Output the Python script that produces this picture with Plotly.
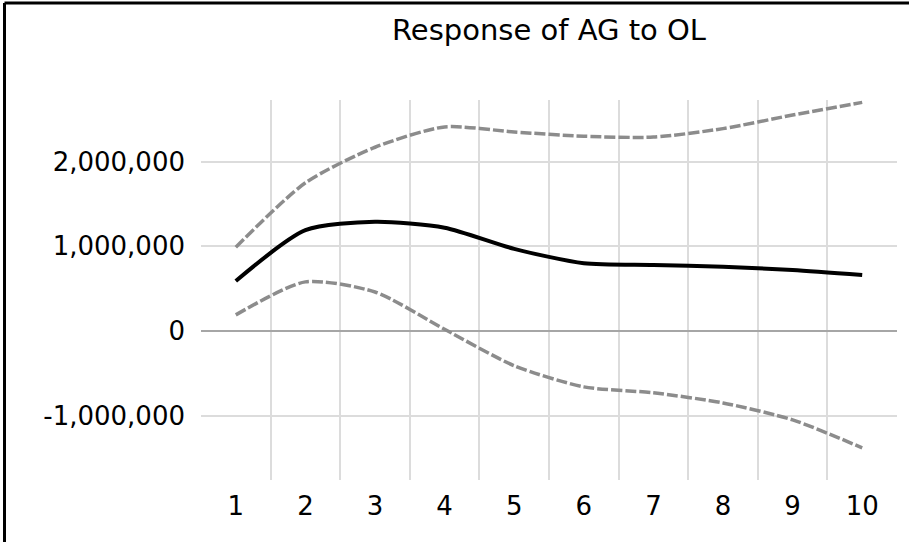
import plotly.graph_objects as go

# Impulse response horizon and values (response of AG to a shock in OL)
periods = [1, 2, 3, 4, 5, 6, 7, 8, 9, 10]
response = [590000, 1190000, 1290000, 1220000, 970000, 800000, 780000, 760000, 720000, 660000]
upper_band = [990000, 1750000, 2170000, 2410000, 2350000, 2300000, 2290000, 2390000, 2550000, 2700000]
lower_band = [190000, 580000, 460000, 20000, -410000, -660000, -730000, -850000, -1050000, -1380000]
y_ticks = [-1000000, 0, 1000000, 2000000]
y_tick_labels = [f"{v:,}" for v in y_ticks]
x_ticks = periods
title_text = "Response of AG to OL"

W, H = 909, 542
M_L, M_R, M_T, M_B = 201, 12, 100, 62
plot_w = W - M_L - M_R
plot_h = H - M_T - M_B

fig = go.Figure()

band_style = dict(color="#8c8c8c", width=3.5, dash="11px,3px", shape="spline", smoothing=0.7)
fig.add_trace(go.Scatter(x=periods, y=upper_band, mode="lines", line=band_style, hoverinfo="skip"))
fig.add_trace(go.Scatter(x=periods, y=lower_band, mode="lines", line=band_style, hoverinfo="skip"))
fig.add_trace(go.Scatter(x=periods, y=response, mode="lines",
                         line=dict(color="#000000", width=4, shape="spline", smoothing=0.7)))

font_family = "DejaVu Sans"

fig.update_layout(
    width=W, height=H,
    margin=dict(l=M_L, r=M_R, t=M_T, b=M_B, pad=0),
    paper_bgcolor="white", plot_bgcolor="white",
    showlegend=False,
    font=dict(family=font_family, color="black", size=26),
    title=dict(text=title_text, x=0.5, xref="paper", xanchor="center",
               y=1 - 29.5 / H, yref="container", yanchor="middle",
               font=dict(family=font_family, size=29, color="black")),
    xaxis=dict(
        range=[0.5, 10.5], tickmode="array", tickvals=x_ticks,
        ticktext=[str(v) for v in x_ticks],
        showgrid=False, zeroline=False, showline=False, ticks="",
        ticklabelstandoff=8, tickfont=dict(size=26),
        minor=dict(tickmode="array", tickvals=[p + 0.5 for p in periods[:-1]],
                   showgrid=True, gridcolor="#dcdcdc", gridwidth=2, ticks=""),
    ),
    yaxis=dict(
        range=[-1760000, 2728000], tickmode="array", tickvals=y_ticks,
        ticktext=y_tick_labels, showgrid=True, gridcolor="#dcdcdc", gridwidth=2,
        zeroline=True, zerolinecolor="#a6a6a6", zerolinewidth=2,
        showline=False, ticks="", ticklabelstandoff=15, tickfont=dict(size=26),
    ),
)

# Outer frame of the chart (left and top edges)
left_x = (4.5 - M_L) / plot_w
top_y = (M_T + plot_h - 3) / plot_h
bottom_y = (M_T + plot_h - H - 5) / plot_h
fig.add_shape(type="line", xref="paper", yref="paper", x0=left_x, x1=left_x,
              y0=bottom_y, y1=top_y, line=dict(color="black", width=3))
fig.add_shape(type="line", xref="paper", yref="paper", x0=left_x, x1=(W + 5 - M_L) / plot_w,
              y0=top_y, y1=top_y, line=dict(color="black", width=3))

fig.write_html("out.html")
